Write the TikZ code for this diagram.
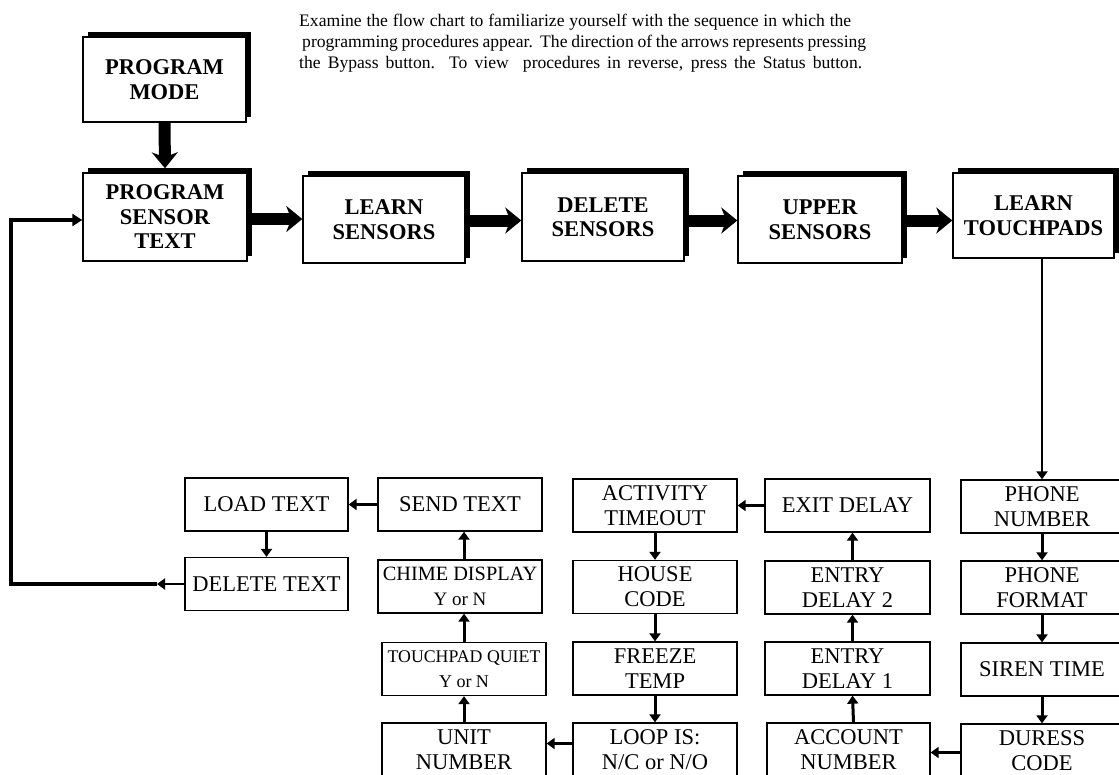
\documentclass[tikz,border=0pt]{standalone}
\usepackage{fontspec}
\setmainfont{Liberation Serif}
\usetikzlibrary{arrows.meta,shadows,calc}
\begin{document}
\begin{tikzpicture}[x=1pt,y=-1pt,
  topbox/.style={draw, line width=1.4pt, fill=white, align=center, inner sep=0pt,
    font=\fontsize{22.5}{24.5}\selectfont\bfseries,
    general shadow={fill=black, shadow xshift=5pt, shadow yshift=5pt}},
  botbox/.style={draw, line width=1.3pt, fill=white, align=center, inner sep=0pt,
    minimum width=164pt, minimum height=53pt,
    font=\fontsize{22.5}{25}\selectfont},
  bigarrow/.style={line width=12pt, -{Stealth[length=16pt,width=26pt,inset=5pt]}},
  smallarrow/.style={line width=3pt, -{Triangle[length=8pt,width=11pt]}},
  fbline/.style={line width=3.5pt},
  intro/.style={anchor=base west, inner sep=0pt, font=\fontsize{17.6}{21}\selectfont}
]
\useasboundingbox (0,0) rectangle (1119,774);
\clip (0,0) rectangle (1119,774);

% intro text
\node[intro] (intro1) at (299,26) {\makebox[552pt][s]{Examine the flow chart to familiarize yourself with the sequence in which the}};
\node[intro] (intro2) at (302,47) {\makebox[564pt][s]{programming procedures appear.\ \ The direction of the arrows represents pressing}};
\node[intro] (intro3) at (299,68) {\makebox[563pt][s]{the Bypass button.\ \ To view\ \ procedures in reverse, press the Status button.}};

% top row
\node[topbox, minimum width=163pt, minimum height=85pt] (pm) at (164.5,79.5) {PROGRAM\\MODE};
\node[topbox, minimum width=164pt, minimum height=88pt] (pst) at (165,217) {PROGRAM\\SENSOR\\TEXT};
\node[topbox, minimum width=162pt, minimum height=87pt] (ls) at (384,219.5) {LEARN\\SENSORS};
\node[topbox, minimum width=162pt, minimum height=88pt] (ds) at (603,217) {DELETE\\SENSORS};
\node[topbox, minimum width=164pt, minimum height=87pt] (us) at (820,219.5) {UPPER\\SENSORS};
\node[topbox, minimum width=161pt, minimum height=85pt] (lt) at (1033.5,215.5) {LEARN\\TOUCHPADS};

\draw[bigarrow] (pm.south) -- ([yshift=4pt]pst.north);
\draw[bigarrow] ([yshift=-2pt]pst.east) -- ([yshift=-2pt]pst.east -| ls.west);
\draw[bigarrow] ([yshift=-1pt]ls.east) -- ([yshift=-1pt]ls.east -| ds.west);
\draw[bigarrow] ([yshift=-1pt]us.west -| ds.east) -- ([yshift=-1pt]us.west);
\draw[bigarrow] ([yshift=-1pt]us.east) -- ([yshift=-1pt]us.east -| lt.west);

% bottom grid
\node[botbox, minimum width=163pt] (load) at (266.5,504.5) {LOAD TEXT};
\node[botbox, minimum width=163pt] (del) at (266.5,584) {DELETE TEXT};
\node[botbox] (send) at (460,504.5) {SEND TEXT};
\node[botbox] (chime) at (460,586.5) {{\fontsize{20.3}{22}\selectfont CHIME DISPLAY}\\{\fontsize{19}{21}\selectfont Y or N}};
\node[botbox] (touch) at (464,669) {{\fontsize{17.8}{22}\selectfont TOUCHPAD QUIET}\\{\fontsize{18}{21}\selectfont Y or N}};
\node[botbox] (unit) at (464,749.5) {UNIT\\NUMBER};
\node[botbox] (act) at (655,505.5) {ACTIVITY\\TIMEOUT};
\node[botbox] (house) at (655,587) {HOUSE\\CODE};
\node[botbox] (freeze) at (655,668.5) {FREEZE\\TEMP};
\node[botbox] (loop) at (655,749.5) {LOOP IS:\\N/C or N/O};
\node[botbox, minimum width=165pt] (exit) at (847.5,505.5) {EXIT DELAY};
\node[botbox, minimum width=165pt] (ed2) at (847.5,587.5) {ENTRY\\DELAY 2};
\node[botbox, minimum width=165pt] (ed1) at (847.5,668.5) {ENTRY\\DELAY 1};
\node[botbox, minimum width=163pt] (acct) at (848.5,749.5) {ACCOUNT\\NUMBER};
\node[botbox, minimum width=162pt] (pn) at (1042,506.5) {PHONE\\NUMBER};
\node[botbox, minimum width=162pt] (pf) at (1042,587.5) {PHONE\\FORMAT};
\node[botbox, minimum width=162pt] (siren) at (1042,669.5) {SIREN TIME};
\node[botbox, minimum width=162pt] (duress) at (1042,750.5) {DURESS\\CODE};

% right column
\draw[line width=2.5pt, -{Triangle[length=8pt,width=11pt]}] (pn.north |- lt.south) -- (pn.north);
\draw[smallarrow] (pn.south) -- (pf.north);
\draw[smallarrow] (pf.south) -- (siren.north);
\draw[smallarrow] (siren.south) -- (duress.north);
\draw[smallarrow] ([yshift=-2pt]duress.west) -- ([yshift=-2pt]duress.west -| acct.east);
% entry column
\draw[smallarrow] ([xshift=5pt]acct.north) -- ([xshift=5pt]ed1.south);
\draw[smallarrow] ([xshift=5pt]ed1.north) -- ([xshift=5pt]ed2.south);
\draw[smallarrow] ([xshift=5pt]ed2.north) -- ([xshift=5pt]exit.south);
\draw[smallarrow] (exit.west) -- (exit.west -| act.east);
% activity column
\draw[smallarrow] (act.south) -- (house.north);
\draw[smallarrow] (house.south) -- (freeze.north);
\draw[smallarrow] (freeze.south) -- (loop.north);
\draw[smallarrow] ([yshift=6pt]loop.west) -- ([yshift=6pt]loop.west -| unit.east);
% unit column
\draw[smallarrow] (unit.north) -- (touch.south);
\draw[smallarrow] (touch.north) -- (touch.north |- chime.south);
\draw[smallarrow] (touch.north |- chime.north) -- (touch.north |- send.south);
\draw[smallarrow] (send.west) -- (send.west -| load.east);
% text column
\draw[smallarrow] (load.south) -- (del.north);
\coordinate (fbmid) at (157,584);
\coordinate (fbcorner) at (11,220);
\draw[smallarrow, line width=2.5pt] (del.west) -- (fbmid);
\draw[fbline] (fbmid) -- (fbcorner |- fbmid) -- (fbcorner);
\draw[fbline, -{Triangle[length=10pt,width=12pt]}] ([xshift=-1.75pt]fbcorner) -- (fbcorner -| pst.west);
\end{tikzpicture}
\end{document}
